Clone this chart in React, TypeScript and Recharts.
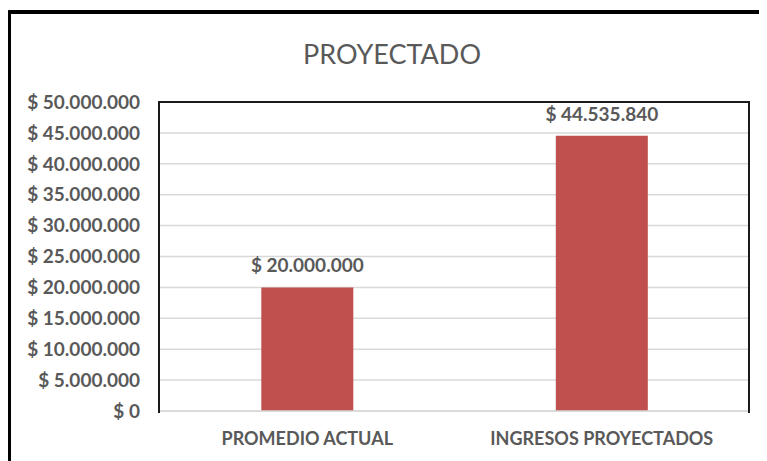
import { Bar, BarChart, CartesianGrid, LabelList, XAxis, YAxis } from "recharts";

const categories = ["PROMEDIO ACTUAL", "INGRESOS PROYECTADOS"];
const values = [20000000, 44535840];
const yTicks = [0, 5000000, 10000000, 15000000, 20000000, 25000000, 30000000, 35000000, 40000000, 45000000, 50000000];

const data = categories.map((name, i) => ({ name, value: values[i] }));

const TEXT = "#595959";
const FONT = "Lato, 'Open Sans', sans-serif";

// Excel style pesos: "$ 44.535.840"
const money = (v: number) =>
  "$ " + Math.round(v).toString().replace(/\B(?=(\d{3})+(?!\d))/g, ".");

// plain svg text so the label doesn't wrap to the bar width
const renderValue = (props: any) => {
  const { x, y, width, value } = props;
  return (
    <text
      x={Number(x) + Number(width) / 2}
      y={Number(y) - 15}
      textAnchor="middle"
      fill={TEXT}
      fontSize={19}
      fontWeight={700}
      fontFamily={FONT}
    >
      {money(Number(value))}
    </text>
  );
};

export default function App() {
  return (
    <div style={{ position: "relative", width: 759, height: 453, fontFamily: FONT }}>
      {/* outer frame, only top and left edges show in the picture */}
      <div
        style={{
          position: "absolute",
          left: -1,
          top: 2,
          width: 800,
          height: 500,
          borderTop: "4px solid #000",
          borderLeft: "4px solid #000",
          borderTopLeftRadius: 3,
        }}
      />
      <div
        style={{
          position: "absolute",
          left: 0,
          top: 28,
          width: 768,
          textAlign: "center",
          fontSize: 27,
          color: TEXT,
          lineHeight: "36px",
        }}
      >
        PROYECTADO
      </div>
      <div style={{ position: "absolute", left: 0, top: 0 }}>
        <BarChart
          width={759}
          height={453}
          data={data}
          margin={{ top: 94, right: 18, bottom: 0, left: 0 }}
          barCategoryGap="34.4%"
        >
          <CartesianGrid vertical={false} stroke="#d9d9d9" strokeWidth={1.5} />
          <XAxis
            dataKey="name"
            height={50}
            tickLine={false}
            tickSize={0}
            tickMargin={21}
            axisLine={{ stroke: "#d9d9d9", strokeWidth: 1.5 }}
            tick={{ fill: TEXT, fontSize: 18, fontWeight: 700, fontFamily: FONT }}
          />
          <YAxis
            width={152}
            domain={[0, 50000000]}
            ticks={yTicks}
            interval={0}
            tickFormatter={money}
            tickLine={false}
            tickSize={0}
            tickMargin={20}
            axisLine={false}
            tick={{ fill: TEXT, fontSize: 19, fontWeight: 700, fontFamily: FONT }}
          />
          <Bar dataKey="value" fill="#C0504D" isAnimationActive={false}>
            <LabelList dataKey="value" content={renderValue} />
          </Bar>
        </BarChart>
      </div>
      {/* plot area border: top, left, right */}
      <div
        style={{
          position: "absolute",
          left: 150,
          top: 93,
          width: 588,
          height: 310,
          border: "2px solid #1a1a1a",
          borderBottom: "none",
          pointerEvents: "none",
        }}
      />
    </div>
  );
}
